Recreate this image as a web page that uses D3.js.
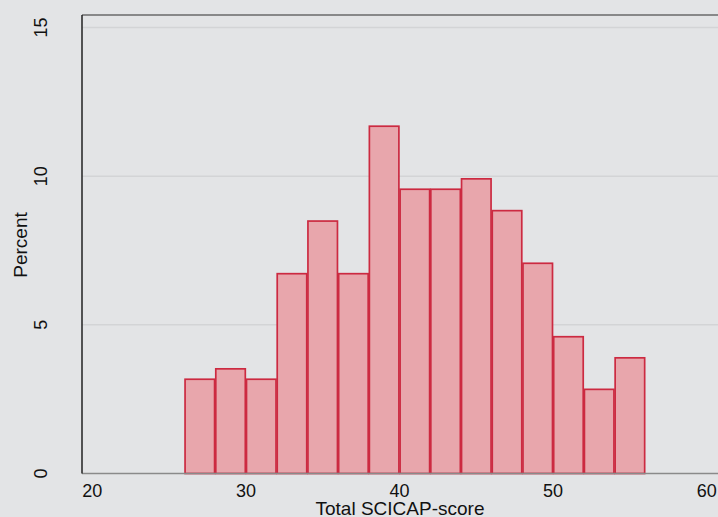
<!DOCTYPE html>
<html>
<head>
<meta charset="utf-8">
<script src="https://cdn.jsdelivr.net/npm/d3@7"></script>
<style>
  body { margin: 0; background: #e3e4e6; }
  svg { display: block; font-family: "Liberation Sans", Arial, sans-serif; }
</style>
</head>
<body>
<svg id="chart"></svg>
<script>
// bins of the total score (2 point width) and percent in each
var binStarts = [26, 28, 30, 32, 34, 36, 38, 40, 42, 44, 46, 48, 50, 52, 54];
var binWidth = 2;
var percents = [3.17, 3.52, 3.17, 6.72, 8.49, 6.72, 11.68, 9.56, 9.56, 9.91, 8.84, 7.07, 4.60, 2.83, 3.89];
var xTicks = [20, 30, 40, 50, 60];
var yTicks = [0, 5, 10, 15];

var screen = {width: 718, height: 517};
var margins = {left: 82, top: 15, right: 0, bottom: 43};

var svg = d3.select("#chart")
    .attr("width", screen.width)
    .attr("height", screen.height);

svg.append("rect")
    .attr("width", screen.width)
    .attr("height", screen.height)
    .attr("fill", "#e3e4e6");

// plot runs past the right edge, like the original crop
var xScale = d3.scaleLinear()
    .domain([20, 60])
    .range([92.3, 706.7]);

var yScale = d3.scaleLinear()
    .domain([0, 15])
    .range([473.5, 27.5]);

var target = svg.append("g");

// grid lines
target.selectAll(".grid")
    .data(yTicks.filter(function(d) { return d > 0; }))
    .enter()
    .append("line")
    .attr("x1", margins.left)
    .attr("x2", screen.width)
    .attr("y1", function(d) { return yScale(d); })
    .attr("y2", function(d) { return yScale(d); })
    .attr("stroke", "#d3d4d6")
    .attr("stroke-width", 1.5);

// bars, each with its own outline
target.selectAll(".bar")
    .data(binStarts)
    .enter()
    .append("rect")
    .attr("x", function(d) { return xScale(d) + 0.6; })
    .attr("width", function(d) { return xScale(d + binWidth) - xScale(d) - 1.2; })
    .attr("y", function(d, i) { return yScale(percents[i]); })
    .attr("height", function(d, i) { return yScale(0) - yScale(percents[i]); })
    .attr("fill", "#e8a6ac")
    .attr("stroke", "#cc2a41")
    .attr("stroke-width", 1.7);

// frame: top and left dark, bottom grey
target.append("line")
    .attr("x1", margins.left).attr("x2", screen.width)
    .attr("y1", margins.top).attr("y2", margins.top)
    .attr("stroke", "#6a6a6a").attr("stroke-width", 1.6);

target.append("line")
    .attr("x1", margins.left).attr("x2", screen.width)
    .attr("y1", yScale(0)).attr("y2", yScale(0))
    .attr("stroke", "#8a8a8a").attr("stroke-width", 1.3);

target.append("line")
    .attr("x1", margins.left).attr("x2", margins.left)
    .attr("y1", margins.top).attr("y2", yScale(0))
    .attr("stroke", "#222").attr("stroke-width", 1.5);

// x tick labels
svg.selectAll(".xtick")
    .data(xTicks)
    .enter()
    .append("text")
    .attr("x", function(d) { return xScale(d); })
    .attr("y", 497)
    .attr("text-anchor", "middle")
    .attr("font-size", 18)
    .attr("fill", "#111")
    .text(function(d) { return d; });

// y tick labels, rotated
svg.selectAll(".ytick")
    .data(yTicks)
    .enter()
    .append("text")
    .attr("transform", function(d) { return "translate(47," + yScale(d) + ") rotate(-90)"; })
    .attr("text-anchor", "middle")
    .attr("font-size", 18)
    .attr("fill", "#111")
    .text(function(d) { return d; });

svg.append("text")
    .attr("x", 400)
    .attr("y", 515)
    .attr("text-anchor", "middle")
    .attr("font-size", 19)
    .attr("fill", "#111")
    .text("Total SCICAP-score");

svg.append("text")
    .attr("transform", "translate(27,245) rotate(-90)")
    .attr("text-anchor", "middle")
    .attr("font-size", 19)
    .attr("fill", "#111")
    .text("Percent");
</script>
</body>
</html>
